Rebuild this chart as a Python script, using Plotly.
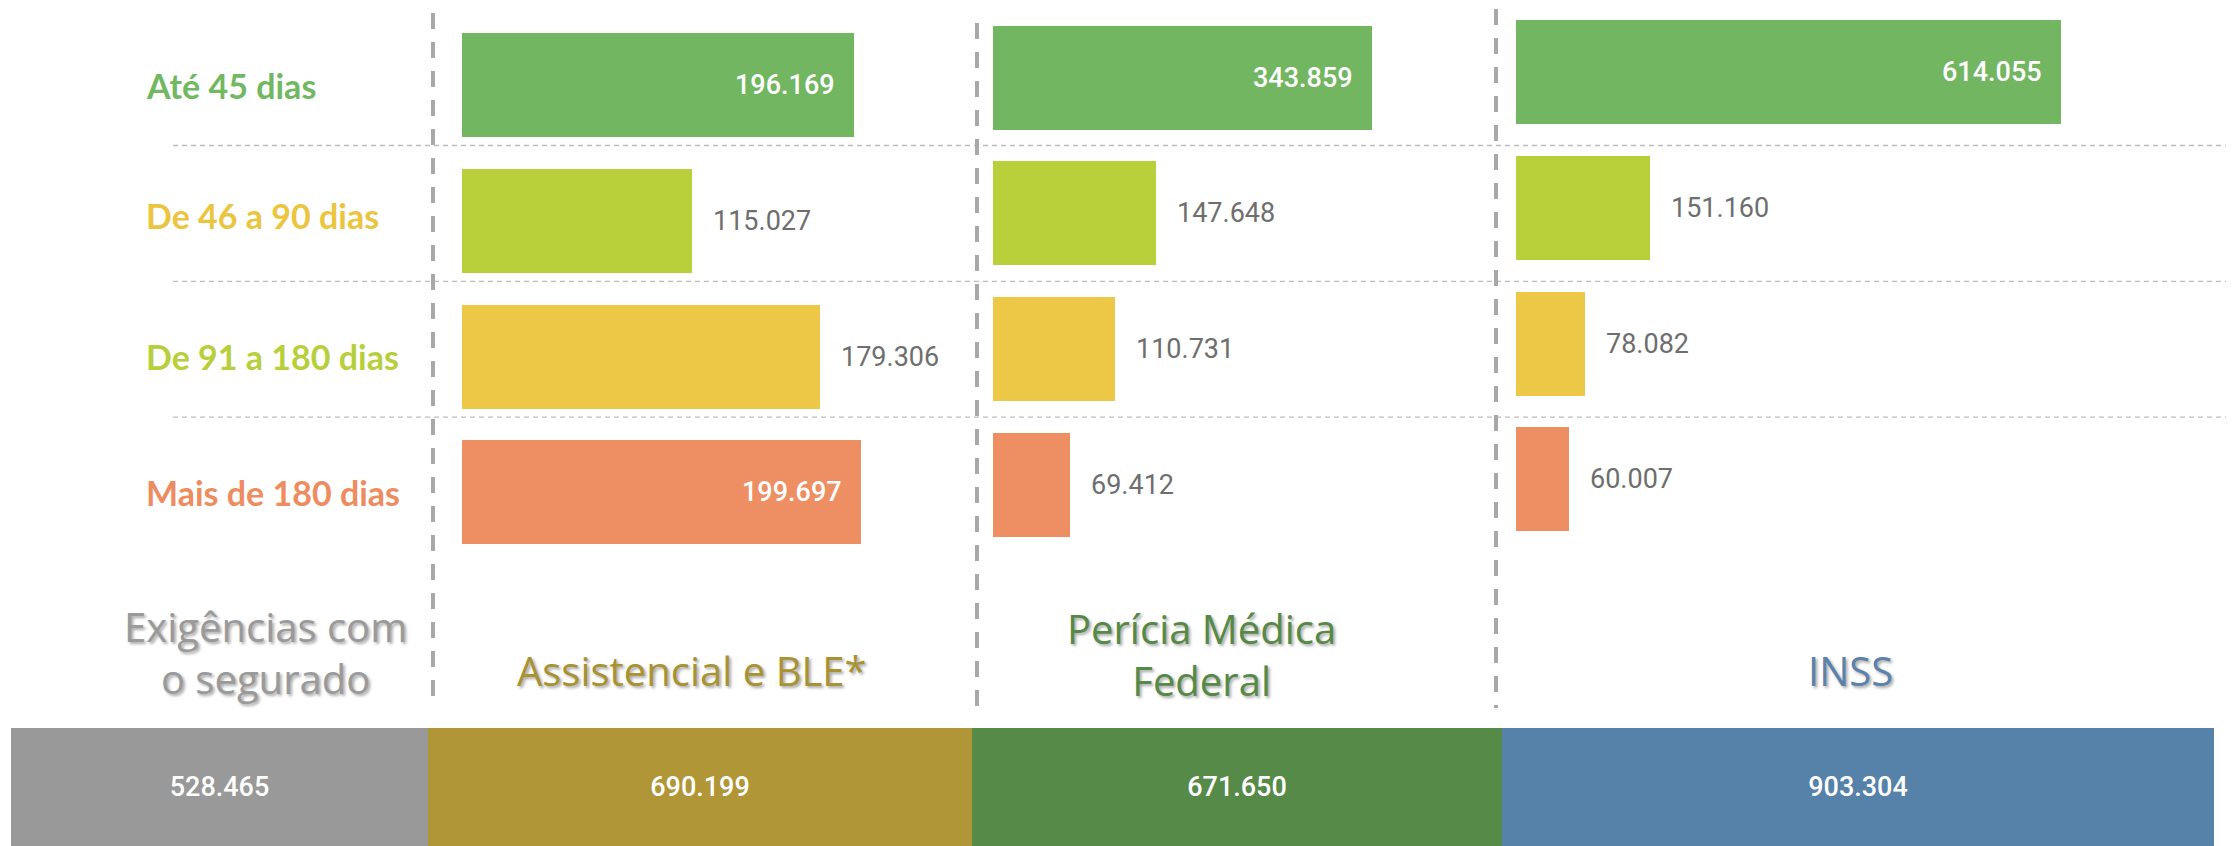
import plotly.graph_objects as go

# ---------------- data ----------------
categories = ["Até 45 dias", "De 46 a 90 dias", "De 91 a 180 dias", "Mais de 180 dias"]
assistencial = [196169, 115027, 179306, 199697]
pericia = [343859, 147648, 110731, 69412]
inss = [614055, 151160, 78082, 60007]
exigencias_total = 528465
columns = ["Exigências com<br>o segurado", "Assistencial e BLE*", "Perícia Médica<br>Federal", "INSS"]

panels = [assistencial, pericia, inss]
totals = [exigencias_total, sum(assistencial), sum(pericia), sum(inss)]

# ---------------- style ----------------
SW, SH = 2234, 846          # screen size
OFF = 8                     # page body margin
FW, FH = SW - OFF, SH - OFF  # figure size

def px(sx):   # screen x -> paper x
    return (sx - OFF) / FW

def py(sy):   # screen y -> paper y
    return 1 - (sy - OFF) / FH

bar_colors = ["#73b662", "#b9d03a", "#ecc846", "#ee8e63"]
label_colors = ["#72b862", "#ecc540", "#b6cf3a", "#ee8c60"]
total_colors = ["#999999", "#b09636", "#568a48", "#5681a8"]
title_colors = ["#9a9a9a", "#a89232", "#548a46", "#5a82aa"]

p_start = [462, 993, 1516]        # screen px where bars start
p_end = [977, 1496, 2234]         # screen px end of each panel area
p_scale = [1.998e-3, 1.1022e-3, 0.8876e-3]  # px per unit
p_c0 = [85, 77.6, 72]             # screen px centre of first row
pitch = 135.8
bar_h = 104
label_inside = [[True, False, False, True], [True, False, False, False], [True, False, False, False]]
label_yshift = [0, 5, 0, 0]

VAL_FONT = "Roboto"
LBL_FONT = "Lato"
TTL_FONT = "Open Sans"

def fmt(v):
    return f"{v:,}".replace(",", ".")

fig = go.Figure()
annotations = []
layout = {}

rows = list(range(len(categories)))
for k, vals in enumerate(panels):
    ax = "" if k == 0 else str(k + 1)
    fig.add_trace(go.Bar(
        x=vals, y=rows, orientation="h", width=bar_h / pitch,
        marker=dict(color=bar_colors, line=dict(width=0)),
        xaxis="x" + ax, yaxis="y" + ax, hoverinfo="skip", showlegend=False,
    ))
    layout["xaxis" + ax] = dict(
        domain=[px(p_start[k]), min(1, px(p_end[k]))],
        range=[0, (min(p_end[k], SW) - p_start[k]) / p_scale[k]],
        visible=False, fixedrange=True,
    )
    c0 = p_c0[k] - OFF
    layout["yaxis" + ax] = dict(
        domain=[0, 1],
        range=[(FH - c0) / pitch, -c0 / pitch],
        visible=False, fixedrange=True,
    )
    for i, v in enumerate(vals):
        inside = label_inside[k][i]
        annotations.append(dict(
            x=v, y=i, xref="x" + ax, yref="y" + ax, text=fmt(v), showarrow=False,
            xanchor="right" if inside else "left", xshift=-17 if inside else 19,
            font=dict(family=VAL_FONT, size=27, weight=500 if inside else 400,
                      color="#ffffff" if inside else "#6e6e6e"),
        ))

# row labels
for i, c in enumerate(categories):
    annotations.append(dict(
        x=px(144), y=i, xref="paper", yref="y", text=f"<b>{c}</b>", showarrow=False,
        xanchor="left", yshift=label_yshift[i],
        font=dict(family=LBL_FONT, size=34, color=label_colors[i]),
    ))

# bottom totals stacked bar
s4 = (2214 - 11) / sum(totals)
for j, t in enumerate(totals):
    fig.add_trace(go.Bar(
        x=[t], y=[0], orientation="h", width=1,
        marker=dict(color=total_colors[j], line=dict(width=0)),
        text=[fmt(t)], textposition="inside", insidetextanchor="middle",
        textangle=0, textfont=dict(family=VAL_FONT, size=27, weight=500, color="#ffffff"),
        xaxis="x4", yaxis="y4", hoverinfo="skip", showlegend=False,
    ))
layout["xaxis4"] = dict(domain=[0, 1], range=[(OFF - 11) / s4, (OFF + FW - 11) / s4],
                        visible=False, fixedrange=True)
layout["yaxis4"] = dict(domain=[0, (SH - 728) / FH], range=[-0.5, 0.5], visible=False, fixedrange=True)

# column titles
title_pos = [(265, 652), (692, 670), (1201, 654), (1850, 670)]
for j, c in enumerate(columns):
    tx, ty = title_pos[j]
    annotations.append(dict(
        x=px(tx), y=py(ty), xref="paper", yref="paper", text=c, showarrow=False,
        xanchor="center", yanchor="middle",
        font=dict(family=TTL_FONT, size=40, color=title_colors[j],
                  shadow="2px 2px 3px rgba(0,0,0,0.35)"),
    ))

shapes = []
# vertical dashed separators
for (xs, y0, y1) in [(433, 13, 702), (977, 23, 709), (1496, 9, 708)]:
    shapes.append(dict(type="line", xref="paper", yref="paper",
                       x0=px(xs), x1=px(xs), y0=py(y0), y1=py(y1),
                       line=dict(color="#a8a8a8", width=4, dash="16px,13px")))
# horizontal dotted row separators
for r in [0.5, 1.5, 2.5]:
    shapes.append(dict(type="line", xref="paper", yref="y2", x0=px(173), x1=1, y0=r, y1=r,
                       line=dict(color="#bdbdbd", width=1.3, dash="5px,4px"), layer="below"))

fig.update_layout(
    width=FW, height=FH, margin=dict(l=0, r=0, t=0, b=0),
    paper_bgcolor="white", plot_bgcolor="rgba(0,0,0,0)",
    barmode="stack", bargap=0, showlegend=False,
    annotations=annotations, shapes=shapes, **layout,
)
fig.write_html("out.html")
